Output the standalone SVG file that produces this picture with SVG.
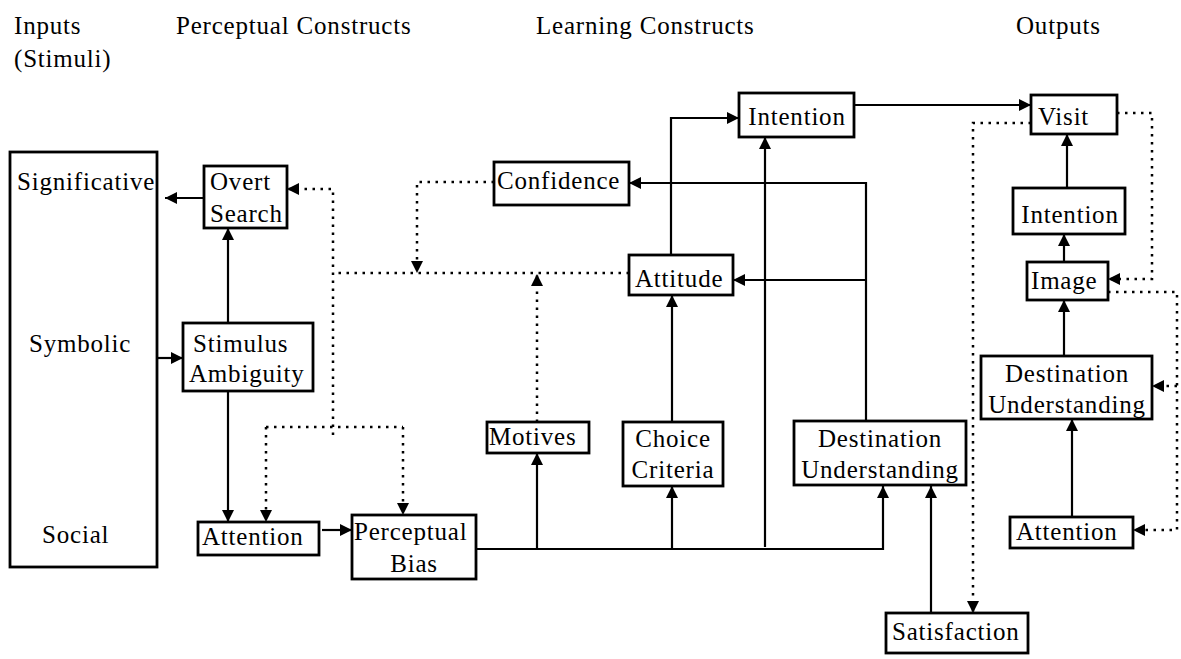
<svg xmlns="http://www.w3.org/2000/svg" width="1181" height="659" viewBox="0 0 1181 659">
  <defs>
    <marker id="arrow" viewBox="0 0 12 12" refX="12" refY="6" markerWidth="12" markerHeight="12" markerUnits="userSpaceOnUse" orient="auto">
      <path d="M0,0 L12,6 L0,12 z" fill="#000" stroke="none"/>
    </marker>
    <style>
      text { font-family: "Liberation Serif", "Times New Roman", serif; font-size: 25px; letter-spacing: 0.8px; fill: #000; }
      .mid { text-anchor: middle; }
      .box { fill: #fff; stroke: #000; stroke-width: 2.8; }
      .solid { fill: none; stroke: #000; stroke-width: 2.2; }
      .dot { fill: none; stroke: #000; stroke-width: 2.5; stroke-dasharray: 2.5 5.5; }
      .arr { marker-end: url(#arrow); }
    </style>
  </defs>
  <rect width="1181" height="659" fill="#fff"/>

  <!-- column headings -->
  <g id="headings">
    <text x="14" y="34">Inputs</text>
    <text x="14" y="67">(Stimuli)</text>
    <text x="176" y="34">Perceptual Constructs</text>
    <text x="536" y="34">Learning Constructs</text>
    <text x="1016" y="34">Outputs</text>
  </g>

  <!-- connectors -->
  <g id="connectors">
    <!-- solid flows -->
    <path class="solid arr" d="M204,198 H165"/>
    <path class="solid arr" d="M228,323 V228"/>
    <path class="solid arr" d="M157,358 H183"/>
    <path class="solid arr" d="M228,391 V522"/>
    <path class="solid arr" d="M322,530 H352"/>
    <path class="solid arr" d="M476,549 H883 V486"/>
    <path class="solid arr" d="M537,549 V453"/>
    <path class="solid arr" d="M672,549 V486"/>
    <path class="solid arr" d="M765,547 V137"/>
    <path class="solid arr" d="M672,422 V295"/>
    <path class="solid arr" d="M671,255 V118 H739"/>
    <path class="solid arr" d="M866,421 V183 H629"/>
    <path class="solid arr" d="M866,280 H733"/>
    <path class="solid arr" d="M854,105 H1031"/>
    <path class="solid arr" d="M931,613 V486"/>
    <path class="solid arr" d="M1067,188 V134"/>
    <path class="solid arr" d="M1064,262 V234"/>
    <path class="solid arr" d="M1064,356 V300"/>
    <path class="solid arr" d="M1072,517 V419"/>

    <!-- dotted feedback -->
    <path class="dot arr" d="M333,435 V189 H287"/>
    <path class="dot" d="M629,273 H333"/>
    <path class="dot" d="M266,427 H403"/>
    <path class="dot arr" d="M266,427 V522"/>
    <path class="dot arr" d="M403,427 V515"/>
    <path class="dot arr" d="M494,182 H417 V273"/>
    <path class="dot arr" d="M537,422 V274"/>
    <path class="dot arr" d="M1031,123 H973 V613"/>
    <path class="dot arr" d="M1117,113 H1152 V279 H1108"/>
    <path class="dot arr" d="M1108,292 H1177 V530 H1133"/>
    <path class="dot arr" d="M1177,386 H1152"/>
  </g>

  <!-- inputs column -->
  <g id="inputs">
    <rect class="box" x="10" y="152" width="147" height="415"/>
    <text x="17" y="190">Significative</text>
    <text x="29" y="352">Symbolic</text>
    <text x="42" y="543">Social</text>
  </g>

  <!-- perceptual constructs -->
  <g id="overt-search">
    <rect class="box" x="204" y="166" width="83" height="62"/>
    <text x="210" y="190">Overt</text>
    <text x="210" y="222">Search</text>
  </g>
  <g id="stimulus-ambiguity">
    <rect class="box" x="183" y="323" width="130" height="68"/>
    <text x="193" y="352">Stimulus</text>
    <text x="189" y="382">Ambiguity</text>
  </g>
  <g id="attention-perceptual">
    <rect class="box" x="198" y="522" width="121" height="33"/>
    <text x="202" y="545">Attention</text>
  </g>
  <g id="perceptual-bias">
    <rect class="box" x="352" y="515" width="124" height="64"/>
    <text x="354" y="540">Perceptual</text>
    <text class="mid" x="414" y="572">Bias</text>
  </g>

  <!-- learning constructs -->
  <g id="motives">
    <rect class="box" x="487" y="422" width="102" height="31"/>
    <text x="489" y="445">Motives</text>
  </g>
  <g id="choice-criteria">
    <rect class="box" x="623" y="422" width="100" height="64"/>
    <text class="mid" x="673" y="447">Choice</text>
    <text class="mid" x="673" y="478">Criteria</text>
  </g>
  <g id="destination-understanding-learning">
    <rect class="box" x="794" y="421" width="172" height="64"/>
    <text class="mid" x="880" y="447">Destination</text>
    <text class="mid" x="880" y="478">Understanding</text>
  </g>
  <g id="confidence">
    <rect class="box" x="494" y="162" width="135" height="43"/>
    <text x="497" y="189">Confidence</text>
  </g>
  <g id="attitude">
    <rect class="box" x="629" y="255" width="104" height="40"/>
    <text x="635" y="287">Attitude</text>
  </g>
  <g id="intention-learning">
    <rect class="box" x="739" y="93" width="115" height="44"/>
    <text class="mid" x="797" y="125">Intention</text>
  </g>
  <g id="satisfaction">
    <rect class="box" x="886" y="613" width="142" height="40"/>
    <text x="892" y="640">Satisfaction</text>
  </g>

  <!-- outputs -->
  <g id="visit">
    <rect class="box" x="1031" y="95" width="86" height="39"/>
    <text x="1038" y="125">Visit</text>
  </g>
  <g id="intention-output">
    <rect class="box" x="1013" y="188" width="112" height="46"/>
    <text class="mid" x="1070" y="223">Intention</text>
  </g>
  <g id="image">
    <rect class="box" x="1027" y="262" width="81" height="38"/>
    <text x="1031" y="289">Image</text>
  </g>
  <g id="destination-understanding-output">
    <rect class="box" x="981" y="356" width="171" height="63"/>
    <text class="mid" x="1067" y="382">Destination</text>
    <text class="mid" x="1067" y="413">Understanding</text>
  </g>
  <g id="attention-output">
    <rect class="box" x="1010" y="517" width="123" height="31"/>
    <text x="1016" y="540">Attention</text>
  </g>
</svg>
